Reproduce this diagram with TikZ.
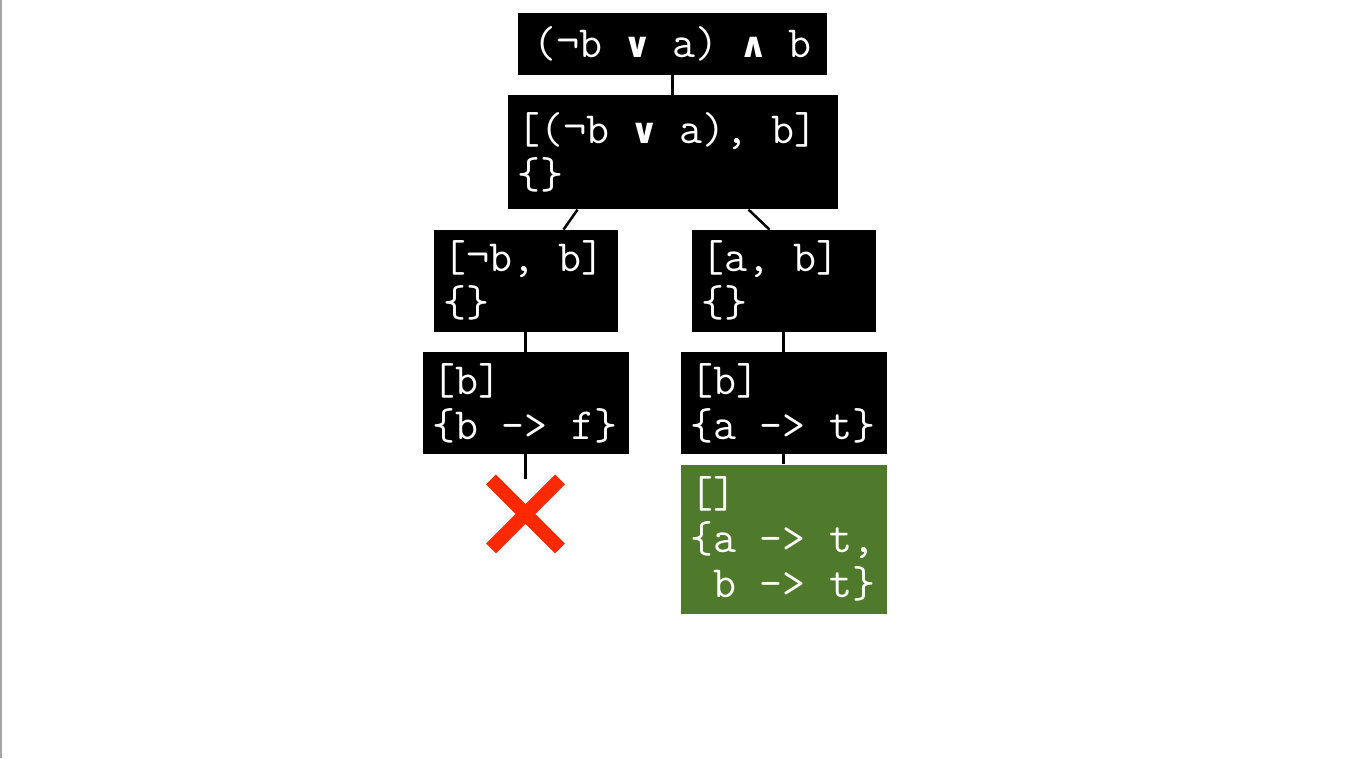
\documentclass[tikz,border=0pt]{standalone}
\usepackage{fontspec}
\newfontfamily\opfont{DejaVu Sans}
\usetikzlibrary{positioning,shapes.misc}
\definecolor{leafgreen}{RGB}{80,122,43}
\definecolor{failred}{RGB}{255,41,0}
\newcommand{\orop}{\makebox[0.525em][c]{\opfont\bfseries\fontsize{35}{35}\selectfont ∨}}
\newcommand{\andop}{\makebox[0.525em][c]{\opfont\bfseries\fontsize{35}{35}\selectfont ∧}}

\begin{document}
\begin{tikzpicture}[x=1pt, y=-1pt, node distance=20pt,
    state/.style = {fill=black, text=white, font=\ttfamily\fontsize{44.6}{45}\selectfont,
                    align=left, inner xsep=10pt, inner ysep=0pt,
                    execute at begin node={\spaceskip=0.525em\xspaceskip=0.525em}},
    sat/.style = {state, fill=leafgreen},
    dead/.style = {cross out, draw=failred, line width=14pt, minimum size=69pt,
                   inner sep=0pt, outer sep=0pt},
    link/.style = {draw, line width=2.5pt}]
    \useasboundingbox (0,0) rectangle (1346,758);
    \draw[gray!70, line width=1.5pt] (0.75,0) -- (0.75,758);

    \node[state, minimum width=309pt, minimum height=62pt] (root) at (672.5,44) {(¬b \orop{} a) \andop{} b};
    \node[state, text width=310pt, minimum height=114pt] (split) [below=of root] {[(¬b \orop{} a), b]\\\{\}};

    \node[state, text width=164pt, minimum height=102pt] (negb) [below=of split, xshift=-147pt] {[¬b, b]\\\{\}};
    \node[state, text width=164pt, minimum height=102pt] (posa) [below=of split, xshift=111pt] {[a, b]\\\{\}};

    \node[state, text width=186pt, minimum height=102pt] (bfalse) [below=of negb] {[b]\\\{b -> f\}};
    \node[state, text width=186pt, minimum height=102pt] (atrue) [below=of posa] {[b]\\\{a -> t\}};

    \node[dead] (fail) [below=25pt of bfalse] {};
    \node[sat, text width=186pt, minimum height=149pt] (model) [below=10pt of atrue] {[]\\\{a -> t,\\\hphantom{\{}b -> t\}};

    \path[link] (root) edge (split);
    \draw[link] ([xshift=-95pt]split.south) -- ([xshift=38pt]negb.north);
    \draw[link] ([xshift=76pt]split.south) -- ([xshift=-14pt]posa.north);
    \path[link] (negb) edge (bfalse);
    \path[link] (posa) edge (atrue);
    \path[link] (bfalse) edge (fail);
    \path[link] (atrue) edge (model);
\end{tikzpicture}
\end{document}
